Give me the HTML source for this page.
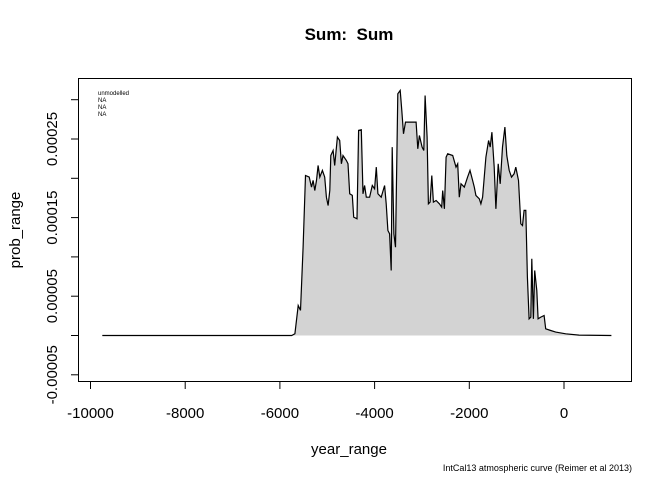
<!DOCTYPE html>
<html><head><meta charset="utf-8"><style>
body{margin:0;background:#fff}
svg{display:block;font-family:"Liberation Sans",Arial,sans-serif}
</style></head><body>
<svg width="672" height="480" viewBox="0 0 672 480">
<text x="349" y="40" text-anchor="middle" font-size="17" font-weight="bold" style="white-space:pre">Sum:  Sum</text>
<g id="plot"></g>
<text x="349" y="454" text-anchor="middle" font-size="15">year_range</text>
<text transform="translate(20,230) rotate(-90)" text-anchor="middle" font-size="15">prob_range</text>
<text x="632" y="471" text-anchor="end" font-size="9">IntCal13 atmospheric curve (Reimer et al 2013)</text>
<g font-size="6">
<text x="98" y="95">unmodelled</text>
<text x="98" y="102">NA</text>
<text x="98" y="109">NA</text>
<text x="98" y="116">NA</text>
</g>
</svg>
<script>
const years=[-9750,-5750,-5684,-5614,-5565,-5509,-5460,-5382,-5333,-5298,-5263,-5228,-5193,-5158,-5102,-5053,-5018,-4982,-4947,-4926,-4877,-4842,-4786,-4737,-4702,-4667,-4596,-4561,-4526,-4470,-4442,-4372,-4337,-4281,-4246,-4211,-4175,-4105,-4049,-4000,-3965,-3930,-3860,-3789,-3754,-3719,-3684,-3649,-3628,-3593,-3558,-3509,-3460,-3425,-3389,-3347,-3228,-3123,-3088,-3053,-2996,-2961,-2933,-2891,-2863,-2828,-2793,-2758,-2702,-2632,-2582,-2561,-2526,-2491,-2456,-2351,-2281,-2246,-2211,-2175,-2105,-2035,-1986,-1930,-1895,-1860,-1789,-1754,-1719,-1649,-1593,-1558,-1523,-1474,-1439,-1389,-1347,-1298,-1249,-1207,-1158,-1109,-1053,-1018,-961,-912,-877,-842,-807,-772,-737,-702,-681,-646,-618,-575,-547,-491,-421,-386,-281,-175,35,316,1000];
const probs=[0,0,0.22,3.82,3.19,11.24,20.36,20.15,18.88,19.73,18.45,19.73,21.63,20.15,21.0,20.15,17.6,16.54,18.45,22.9,23.54,21.63,25.24,24.81,21.85,22.9,22.27,21.85,18.03,17.82,15.06,14.85,26.09,26.17,18.03,19.09,17.6,17.6,19.09,18.66,21.42,18.03,17.6,19.09,16.76,13.36,12.94,8.27,23.97,12.94,11.24,30.75,31.18,28.63,25.66,27.15,27.15,27.15,23.75,25.45,23.97,23.54,30.54,25.24,16.76,16.97,20.36,16.97,17.18,16.76,16.33,18.45,16.12,22.69,23.12,22.9,21.42,21.85,17.6,19.3,18.88,20.15,21.0,19.73,18.88,17.82,17.39,16.76,17.6,22.69,24.81,23.97,25.87,21.42,16.12,21.85,19.3,23.97,26.51,22.9,21.0,20.15,20.57,21.42,19.73,14.21,14.0,15.91,15.91,7.43,2.12,2.34,9.76,2.12,8.27,5.73,2.12,2.34,2.55,0.85,0.64,0.43,0.22,0.05,0];
const xTicks=[-10000,-8000,-6000,-4000,-2000,0];
const yTicks=[-5,0,5,10,15,20,25,30];
const yLabels={"-5":"-0.00005","5":"0.00005","15":"0.00015","25":"0.00025"};
const NS="http://www.w3.org/2000/svg";
const X=v=>564+(v)*0.04735;
const Y=v=>335.5-v*7.86;
const g=document.getElementById('plot');
function mk(t,a){const e=document.createElementNS(NS,t);for(const k in a)e.setAttribute(k,a[k]);g.appendChild(e);return e;}
let d='M'+X(years[0])+','+Y(0);
years.forEach((y,i)=>{d+=' L'+X(y).toFixed(1)+','+Y(probs[i]).toFixed(1);});
const area=mk('path',{d:d+' Z',fill:'#d3d3d3',stroke:'none'});


const line=mk('path',{d:d.replace(/^M[^L]+L/,'M'),fill:'none',stroke:'#000','stroke-width':1.2});


const box=mk('rect',{x:78.5,y:78.5,width:553,height:303,fill:'none',stroke:'#000','stroke-width':1});


xTicks.forEach(t=>{
 const l=mk('line',{x1:X(t),x2:X(t),y1:382,y2:389,stroke:'#000'});
 
 
 const tx=mk('text',{x:X(t),y:418,'text-anchor':'middle','font-size':15});
 tx.textContent=t;
 
 
});
yTicks.forEach(t=>{
 const l=mk('line',{x1:71,x2:78,y1:Y(t),y2:Y(t),stroke:'#000'});
 
 
 if(yLabels[t]){
  const tx=mk('text',{transform:`translate(57,${Y(t)}) rotate(-90)`,'text-anchor':'middle','font-size':15});
  tx.textContent=yLabels[t];
  
  
 }
});
</script>
</body></html>
